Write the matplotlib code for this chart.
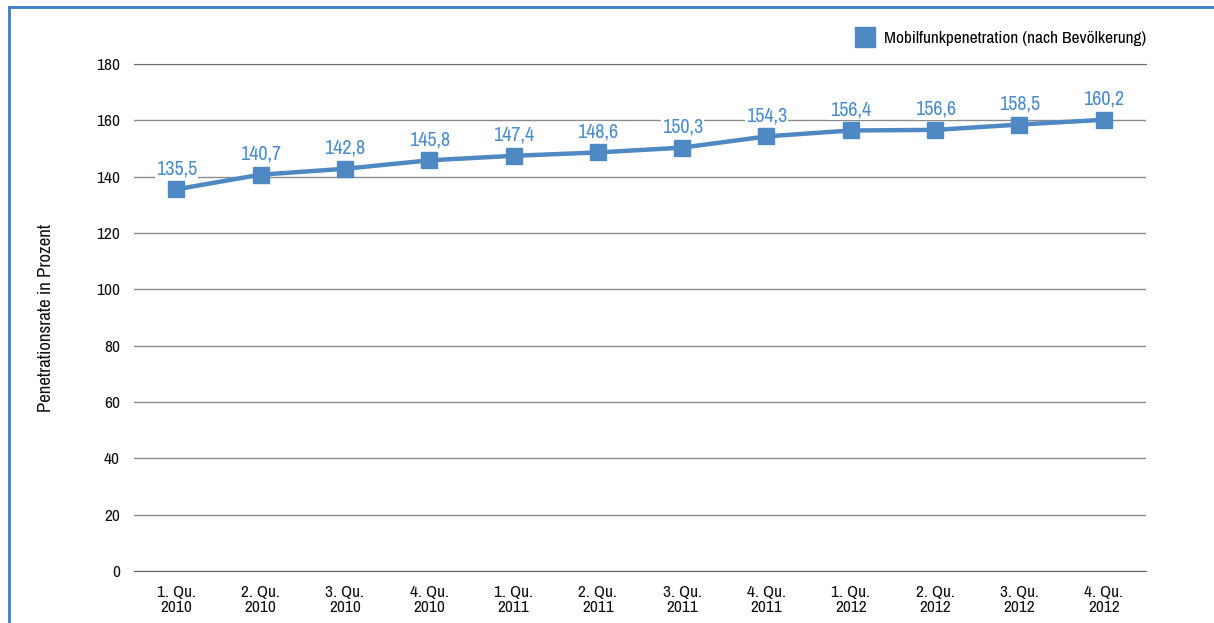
import matplotlib.pyplot as plt
from matplotlib import font_manager
from matplotlib.lines import Line2D

# look for a narrow / condensed face, the reference uses one
FONT = 'DejaVu Sans'
STRETCH = 'normal'
for f in font_manager.fontManager.ttflist:
    low = f.name.lower()
    if 'narrow' in low or 'condensed' in low:
        FONT = f.name
        break
else:
    for f in font_manager.fontManager.ttflist:
        if f.stretch in ('condensed', 'semi-condensed', 'extra-condensed') and f.weight in (400, 'normal', 'regular'):
            FONT = f.name
            STRETCH = f.stretch
            break
plt.rcParams['font.family'] = [FONT, 'DejaVu Sans']
plt.rcParams['font.stretch'] = STRETCH

quarters = ["1. Qu.\n2010", "2. Qu.\n2010", "3. Qu.\n2010", "4. Qu.\n2010",
            "1. Qu.\n2011", "2. Qu.\n2011", "3. Qu.\n2011", "4. Qu.\n2011",
            "1. Qu.\n2012", "2. Qu.\n2012", "3. Qu.\n2012", "4. Qu.\n2012"]
penetration = [135.5, 140.7, 142.8, 145.8, 147.4, 148.6, 150.3, 154.3,
               156.4, 156.6, 158.5, 160.2]
y_ticks = [0, 20, 40, 60, 80, 100, 120, 140, 160, 180]

LINE_COLOR = '#4f89c3'
LABEL_COLOR = '#4a8ccc'
GRID_COLOR = '#8c8c8c'

fig = plt.figure(figsize=(12.14, 6.23), dpi=100)
ax = fig.add_axes([134/1214, 1-571/623, (1146-134)/1214, (571-64)/623])

x = list(range(len(quarters)))
ax.plot(x, penetration, color=LINE_COLOR, linewidth=3.2, marker='s',
        markersize=11, markerfacecolor=LINE_COLOR, markeredgecolor=LINE_COLOR,
        zorder=3)
for i, v in enumerate(penetration):
    ax.annotate(f"{v:.1f}".replace('.', ','), xy=(i, v), xytext=(0, 8),
                textcoords='offset points', ha='center', va='bottom',
                fontsize=14.5, color=LABEL_COLOR, zorder=4,
                bbox=dict(boxstyle='square,pad=0.05', fc='white', ec='none'))

ax.set_xlim(-0.5, len(quarters) - 0.5)
ax.set_ylim(0, 180)
ax.set_yticks(y_ticks)
ax.set_yticklabels([str(t) for t in y_ticks], fontsize=12.5)
ax.set_xticks(x)
ax.set_xticklabels(quarters, fontsize=12.5, linespacing=1.05)
ax.tick_params(axis='both', length=0, colors='#111111')
ax.tick_params(axis='y', pad=10)
ax.tick_params(axis='x', pad=10)
ax.grid(True, axis='y', color=GRID_COLOR, linewidth=1.0)
ax.set_axisbelow(True)
for s in ax.spines.values():
    s.set_visible(False)
ax.spines['bottom'].set_visible(True)
ax.spines['bottom'].set_color('#666666')
ax.spines['top'].set_visible(True)
ax.spines['top'].set_color('#707070')

ax.set_ylabel('Penetrationsrate in Prozent', fontsize=13.5, color='#111111')
ax.yaxis.set_label_coords(-80/1012, 0.5)

handle = Line2D([], [], linestyle='none', marker='s', markersize=14,
                color=LINE_COLOR)
ax.legend([handle], ['Mobilfunkpenetration (nach Bevölkerung)'],
          loc='lower right', bbox_to_anchor=(1.0, 1.035), frameon=False,
          fontsize=12.5, handletextpad=0.1, borderaxespad=0, borderpad=0)

# blue frame (top and left edges)
fig.add_artist(Line2D([9/1214, 9/1214], [0, 1-7/623], color='#3d7cc9', linewidth=2))
fig.add_artist(Line2D([9/1214, 1], [1-7/623, 1-7/623], color='#3d7cc9', linewidth=2))

fig.savefig('out.png', dpi=100)
